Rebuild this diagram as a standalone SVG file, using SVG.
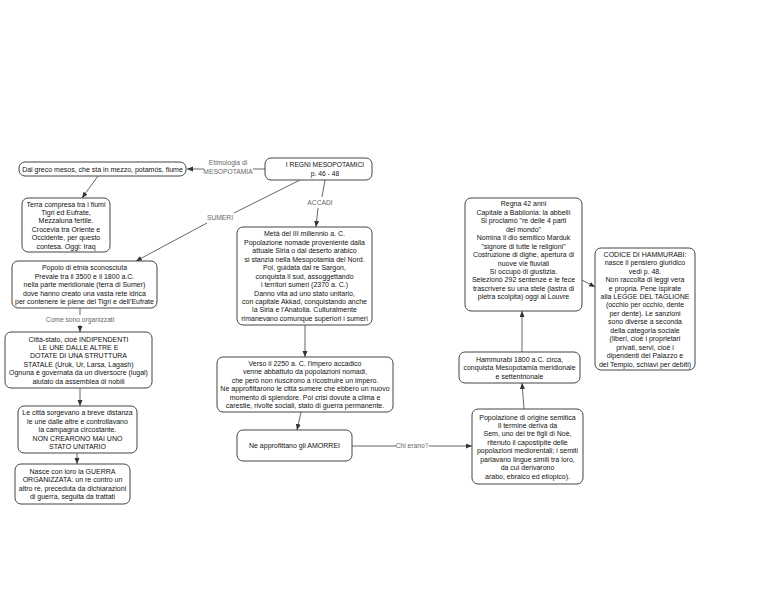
<svg xmlns="http://www.w3.org/2000/svg" width="768" height="593" viewBox="0 0 768 593">
<style>
.box{fill:#fff;stroke:#444;stroke-width:1}
.t{font-family:"Liberation Sans",Arial,sans-serif;font-size:7px;fill:#111;text-anchor:middle}
.tt{font-family:"Liberation Sans",Arial,sans-serif;font-size:6.7px;fill:#111;text-anchor:middle}
.lbl{font-family:"Liberation Sans",Arial,sans-serif;font-size:6.7px;fill:#666;text-anchor:middle}
.c{stroke:#555;stroke-width:0.9;fill:none}
.a{marker-end:url(#ah)}
</style>
<defs>
<marker id="ah" markerUnits="userSpaceOnUse" markerWidth="7" markerHeight="6" refX="6" refY="2.5" orient="auto">
<path d="M0,0 L6,2.5 L0,5 z" fill="#333"/>
</marker>
</defs>
<rect width="768" height="593" fill="#fff"/>

<g id="connectors">
<line class="c" x1="265" y1="169" x2="253" y2="169"/>
<line class="c a" x1="204" y1="169" x2="187" y2="169"/>
<text class="lbl" x="228" y="165.3">Etimologia di</text>
<text class="lbl" x="228" y="174.3">MESOPOTAMIA</text>

<line class="c a" x1="98" y1="176" x2="82" y2="198"/>

<line class="c" x1="300" y1="180" x2="234" y2="213"/>
<text class="lbl" x="220" y="220.3">SUMERI</text>
<line class="c a" x1="207" y1="223" x2="136" y2="261"/>

<line class="c" x1="325" y1="180" x2="322" y2="197"/>
<text class="lbl" x="320" y="205.3">ACCADI</text>
<line class="c a" x1="318" y1="208" x2="316" y2="227"/>

<line class="c" x1="80" y1="308" x2="80" y2="315"/>
<text class="lbl" x="80" y="322.3">Come sono organizzati</text>
<line class="c a" x1="80" y1="325" x2="80" y2="332"/>

<line class="c a" x1="80" y1="388" x2="80" y2="406"/>
<line class="c a" x1="77" y1="453" x2="77" y2="464"/>
<line class="c a" x1="305" y1="325" x2="305" y2="357"/>
<line class="c a" x1="301" y1="412" x2="297" y2="430"/>

<line class="c" x1="352" y1="446" x2="396" y2="446"/>
<text class="lbl" x="412" y="448.3">Chi erano?</text>
<line class="c a" x1="429" y1="446" x2="472" y2="446"/>

<line class="c a" x1="524" y1="409" x2="522" y2="383"/>
<line class="c a" x1="522" y1="352" x2="522" y2="311"/>
<line class="c a" x1="582" y1="280" x2="595" y2="287"/>
</g>

<g id="n-title">
<rect class="box" x="265" y="158" width="107" height="22" rx="6"/>
<text class="tt" x="325" y="167.4">I REGNI MESOPOTAMICI</text>
<text class="tt" x="325" y="175.9">p. 46 - 48</text>
</g>

<g id="n-greco">
<rect class="box" x="19" y="162" width="167" height="14" rx="6"/>
<text class="t" x="102.5" y="171.6">Dal greco mesos, che sta in mezzo, potamós, fiume</text>
</g>

<g id="n-terra">
<rect class="box" x="22" y="198" width="88" height="54" rx="6"/>
<text class="t" x="66" y="206.5">Terra compresa tra i fiumi</text>
<text class="t" x="66" y="214.95">Tigri ed Eufrate,</text>
<text class="t" x="66" y="223.4">Mezzaluna fertile.</text>
<text class="t" x="66" y="231.85">Crocevia tra Oriente e</text>
<text class="t" x="66" y="240.3">Occidente, per questo</text>
<text class="t" x="66" y="248.75">contesa. Oggi: Iraq</text>
</g>

<g id="n-popolo">
<rect class="box" x="12" y="261" width="145" height="47" rx="6"/>
<text class="t" x="84.5" y="270.2">Popolo di etnia sconosciuta</text>
<text class="t" x="84.5" y="278.65">Prevale tra il 3500 e il 1800 a.C.</text>
<text class="t" x="84.5" y="287.1">nella parte meridionale (terra di Sumer)</text>
<text class="t" x="84.5" y="295.55">dove hanno creato una vasta rete idrica</text>
<text class="t" x="84.5" y="304">per contenere le piene del Tigri e dell’Eufrate</text>
</g>

<g id="n-citta">
<rect class="box" x="5" y="332" width="147" height="56" rx="6"/>
<text class="t" x="78.5" y="341.5">Città-stato, cioè INDIPENDENTI</text>
<text class="t" x="78.5" y="349.95">LE UNE DALLE ALTRE E</text>
<text class="t" x="78.5" y="358.4">DOTATE DI UNA STRUTTURA</text>
<text class="t" x="78.5" y="366.85">STATALE (Uruk, Ur, Larsa, Lagash)</text>
<text class="t" x="78.5" y="375.3">Ognuna è governata da un diversocre (lugal)</text>
<text class="t" x="78.5" y="383.75">aiutato da assemblea di nobili</text>
</g>

<g id="n-sorgevano">
<rect class="box" x="18" y="406" width="119" height="47" rx="6"/>
<text class="t" x="77.5" y="415.2">Le città sorgevano a breve distanza</text>
<text class="t" x="77.5" y="423.65">le une dalle altre e controllavano</text>
<text class="t" x="77.5" y="432.1">la campagna circostante.</text>
<text class="t" x="77.5" y="440.55">NON CREARONO MAI UNO</text>
<text class="t" x="77.5" y="449">STATO UNITARIO</text>
</g>

<g id="n-guerra">
<rect class="box" x="15" y="464" width="115" height="40" rx="6"/>
<text class="t" x="72.5" y="473.9">Nasce con loro la GUERRA</text>
<text class="t" x="72.5" y="482.35">ORGANIZZATA: un re contro un</text>
<text class="t" x="72.5" y="490.8">altro re, preceduta da dichiarazioni</text>
<text class="t" x="72.5" y="499.25">di guerra, seguita da trattati</text>
</g>

<g id="n-meta">
<rect class="box" x="237" y="227" width="135" height="98" rx="6"/>
<text class="t" x="304.5" y="236.35">Metà del III millennio a. C.</text>
<text class="t" x="304.5" y="244.8">Popolazione nomade proveniente dalla</text>
<text class="t" x="304.5" y="253.25">attuale Siria o dal deserto arabico</text>
<text class="t" x="304.5" y="261.7">si stanzia nella Mesopotamia del Nord.</text>
<text class="t" x="304.5" y="270.15">Poi, guidata dal re Sargon,</text>
<text class="t" x="304.5" y="278.6">conquista il sud, assoggettando</text>
<text class="t" x="304.5" y="287.05">i territori sumeri (2370 a. C.)</text>
<text class="t" x="304.5" y="295.5">Danno vita ad uno stato unitario,</text>
<text class="t" x="304.5" y="303.95">con capitale Akkad, conquistando anche</text>
<text class="t" x="304.5" y="312.4">la Siria e l'Anatolia. Culturalmente</text>
<text class="t" x="304.5" y="320.85">rimanevano comunque superiori i sumeri</text>
</g>

<g id="n-verso">
<rect class="box" x="217" y="357" width="176" height="55" rx="6"/>
<text class="t" x="305" y="366">Verso il 2250 a. C. l'impero accadico</text>
<text class="t" x="305" y="374.45">venne abbattuto da popolazioni nomadi,</text>
<text class="t" x="305" y="382.9">che però non riuscirono a ricostruire un impero.</text>
<text class="t" x="305" y="391.35">Ne approfittarono le città sumere che ebbero un nuovo</text>
<text class="t" x="305" y="399.8">momento di splendore. Poi crisi dovute a clima e</text>
<text class="t" x="305" y="408.25">carestie, rivolte sociali, stato di guerra permanente.</text>
</g>

<g id="n-amorrei">
<rect class="box" x="237" y="430" width="115" height="31" rx="6"/>
<text class="t" x="294.5" y="448.1">Ne approfittano gli AMORREI</text>
</g>

<g id="n-semitica">
<rect class="box" x="472" y="409" width="111" height="75" rx="6"/>
<text class="t" x="527.5" y="419.5">Popolazione di origine semitica</text>
<text class="t" x="527.5" y="427.95">Il termine deriva da</text>
<text class="t" x="527.5" y="436.4">Sem, uno dei tre figli di Noè,</text>
<text class="t" x="527.5" y="444.85">ritenuto il capostipite delle</text>
<text class="t" x="527.5" y="453.3">popolazioni mediorentali; i semiti</text>
<text class="t" x="527.5" y="461.75">parlavano lingue simili tra loro,</text>
<text class="t" x="527.5" y="470.2">da cui derivarono</text>
<text class="t" x="527.5" y="478.65">arabo, ebraico ed etiopico).</text>
</g>

<g id="n-hammurabi">
<rect class="box" x="459" y="352" width="121" height="31" rx="6"/>
<text class="t" x="519.5" y="361.65">Hammurabi 1800 a.C. circa,</text>
<text class="t" x="519.5" y="370.1">conquista Mesopotamia meridionale</text>
<text class="t" x="519.5" y="378.55">e settentrionale</text>
</g>

<g id="n-regna">
<rect class="box" x="465" y="198" width="117" height="113" rx="6"/>
<text class="t" x="523.5" y="206.4">Regna 42 anni</text>
<text class="t" x="523.5" y="214.85">Capitale a Babilonia: la abbellì</text>
<text class="t" x="523.5" y="223.3">Si proclamò "re delle 4 parti</text>
<text class="t" x="523.5" y="231.75">del mondo"</text>
<text class="t" x="523.5" y="240.2">Nomina il dio semitico Marduk</text>
<text class="t" x="523.5" y="248.65">"signore di tutte le religioni"</text>
<text class="t" x="523.5" y="257.1">Costruzione di dighe, apertura di</text>
<text class="t" x="523.5" y="265.55">nuove vie fluviali</text>
<text class="t" x="523.5" y="274">Si occupò di giustizia.</text>
<text class="t" x="523.5" y="282.45">Selezionò 292 sentenze e le fece</text>
<text class="t" x="523.5" y="290.9">trascrivere su una stele (lastra di</text>
<text class="t" x="523.5" y="299.35">pietra scolpita) oggi al Louvre</text>
</g>

<g id="n-codice">
<rect class="box" x="595" y="248" width="100" height="122" rx="6"/>
<text class="t" x="645" y="256.7">CODICE DI HAMMURABI:</text>
<text class="t" x="645" y="265.15">nasce il pensiero giuridico</text>
<text class="t" x="645" y="273.6">vedi p. 48.</text>
<text class="t" x="645" y="282.05">Non raccolta di leggi vera</text>
<text class="t" x="645" y="290.5">e propria. Pene ispirate</text>
<text class="t" x="645" y="298.95">alla LEGGE DEL TAGLIONE</text>
<text class="t" x="645" y="307.4">(occhio per occhio, dente</text>
<text class="t" x="645" y="315.85">per dente). Le sanzioni</text>
<text class="t" x="645" y="324.3">sono diverse a seconda</text>
<text class="t" x="645" y="332.75">della categoria sociale</text>
<text class="t" x="645" y="341.2">(liberi, cioè i proprietari</text>
<text class="t" x="645" y="349.65">privati, servi, cioè i</text>
<text class="t" x="645" y="358.1">dipendenti del Palazzo e</text>
<text class="t" x="645" y="366.55">del Tempio, schiavi per debiti)</text>
</g>
</svg>
